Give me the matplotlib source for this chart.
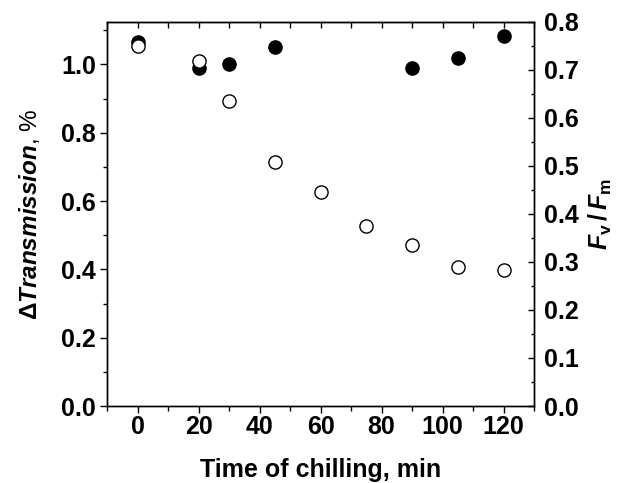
import numpy as np
import matplotlib.pyplot as plt
from matplotlib.ticker import MultipleLocator

# time of chilling, min
time_trans = [0, 20, 30, 45, 90, 105, 120]
trans = [1.065, 0.988, 1.0, 1.051, 0.988, 1.020, 1.084]

time_fvfm = [0, 20, 30, 45, 60, 75, 90, 105, 120]
fvfm = [0.750, 0.718, 0.634, 0.508, 0.446, 0.374, 0.335, 0.290, 0.284]

xticks = [0, 20, 40, 60, 80, 100, 120]

plt.rcParams['font.family'] = 'Liberation Sans'
plt.rcParams['font.weight'] = 'bold'
plt.rcParams['mathtext.fontset'] = 'custom'
plt.rcParams['mathtext.rm'] = 'Liberation Sans:bold'
plt.rcParams['mathtext.it'] = 'Liberation Sans:bold:italic'
plt.rcParams['mathtext.bf'] = 'Liberation Sans:bold'

fig = plt.figure(figsize=(6.27, 4.83), dpi=100)
ax = fig.add_axes([0.1707, 0.1594, 0.6810, 0.7957])
ax.plot(time_trans, trans, 'o', color='black', markersize=9.5, zorder=3)
ax.set_xlim(-10, 130)
ax.set_ylim(0, 1.125)
ax.set_xticks(xticks)
ax.xaxis.set_minor_locator(MultipleLocator(10))
ax.yaxis.set_major_locator(MultipleLocator(0.2))
ax.yaxis.set_minor_locator(MultipleLocator(0.1))
ax.yaxis.set_major_formatter(plt.FormatStrFormatter('%.1f'))
ax.tick_params(axis='both', which='both', labelsize=18, width=1)
ax.tick_params(axis='x', which='major', direction='out', length=5, pad=1.5)
ax.tick_params(axis='x', which='minor', direction='out', length=3.5)
ax.tick_params(axis='y', which='major', direction='out', length=5, pad=3)
ax.tick_params(axis='y', which='minor', direction='out', length=3)
ax.set_xlabel('Time of chilling, min', fontsize=18, fontweight='bold', labelpad=14)
ax.set_ylabel(r'$\Delta Transmission$, %', fontsize=17.5, labelpad=14)

# inward ticks on top
top = ax.secondary_xaxis('top')
top.set_xticks(xticks)
top.xaxis.set_minor_locator(MultipleLocator(10))
top.tick_params(axis='x', which='both', direction='in', length=4, labeltop=False, width=1)

ax2 = ax.twinx()
ax2.plot(time_fvfm, fvfm, 'o', markerfacecolor='white', markeredgecolor='black',
         markeredgewidth=1.0, markersize=9.5, zorder=3)
ax2.set_ylim(0, 0.8)
ax2.yaxis.set_major_locator(MultipleLocator(0.1))
ax2.yaxis.set_minor_locator(MultipleLocator(0.05))
ax2.yaxis.set_major_formatter(plt.FormatStrFormatter('%.1f'))
ax2.tick_params(axis='y', which='major', direction='in', length=4, labelsize=18, width=1, pad=7)
ax2.tick_params(axis='y', which='minor', direction='in', length=2.5, width=1)
ax2.set_ylabel(r'$F_{\rm v}\,/\,F_{\rm m}$', fontsize=18, labelpad=6)

for a in (ax, ax2):
    for s in a.spines.values():
        s.set_linewidth(1)

fig.savefig('out.png', dpi=100)
